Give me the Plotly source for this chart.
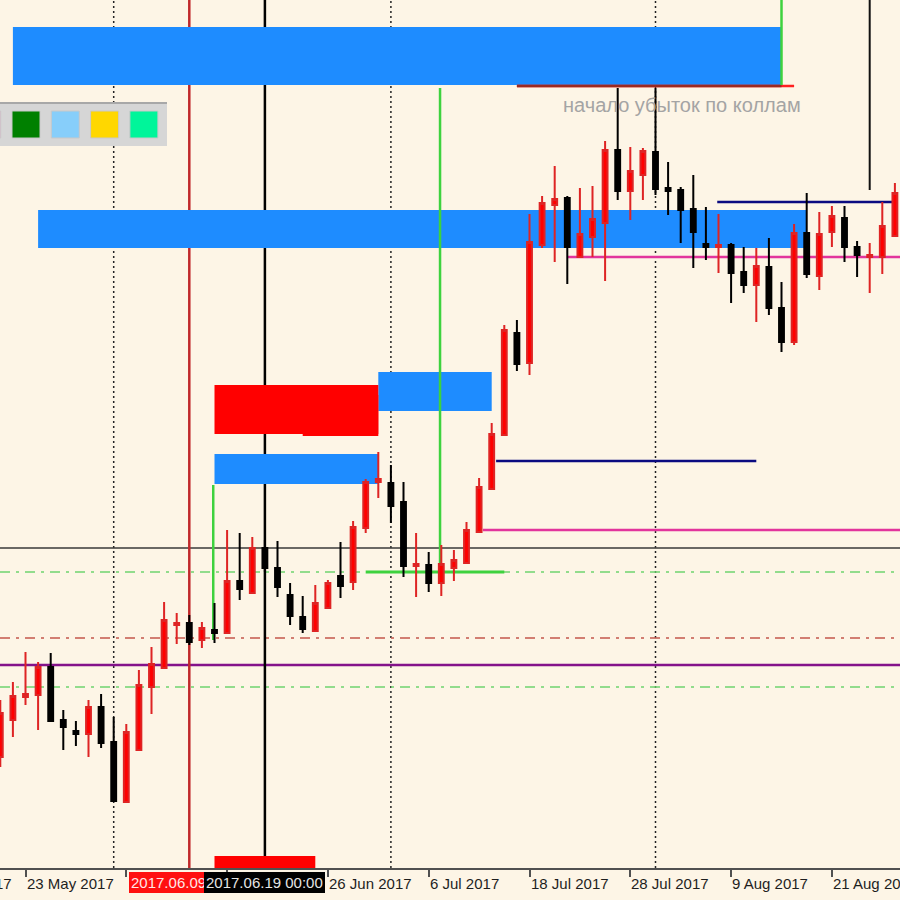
import plotly.graph_objects as go
import pandas as pd

# ---------------- data ----------------
dates = [d.strftime("%Y-%m-%d") for d in pd.bdate_range("2017-05-19", periods=72)]

open_p = [1.1243, 1.1280, 1.1303, 1.1305, 1.1333, 1.1280, 1.1269, 1.1266, 1.1293, 1.1258,
          1.1198, 1.1250, 1.1313, 1.1332, 1.1375, 1.1377, 1.1360, 1.1370, 1.1367, 1.1419,
          1.1407, 1.1452, 1.1432, 1.1405, 1.1383, 1.1369, 1.1392, 1.1424, 1.1418, 1.1472,
          1.1518, 1.1517, 1.1498, 1.1434, 1.1435, 1.1417, 1.1432, 1.1437, 1.1468, 1.1511,
          1.1565, 1.1667, 1.1637, 1.1755, 1.1795, 1.1802, 1.1743, 1.1763, 1.1777, 1.1850,
          1.1809, 1.1825, 1.1848, 1.1812, 1.1810, 1.1791, 1.1756, 1.1753, 1.1755, 1.1728,
          1.1715, 1.1733, 1.1692, 1.1658, 1.1767, 1.1724, 1.1768, 1.1782, 1.1753, 1.1743,
          1.1743, 1.1764]
high_p = [1.1300, 1.1318, 1.1348, 1.1338, 1.1347, 1.1290, 1.1279, 1.1300, 1.1306, 1.1283,
          1.1276, 1.1330, 1.1353, 1.1398, 1.1387, 1.1385, 1.1378, 1.1397, 1.1470, 1.1467,
          1.1463, 1.1460, 1.1459, 1.1417, 1.1404, 1.1415, 1.1420, 1.1458, 1.1479, 1.1521,
          1.1548, 1.1535, 1.1518, 1.1467, 1.1448, 1.1455, 1.1450, 1.1478, 1.1522, 1.1577,
          1.1675, 1.1680, 1.1786, 1.1804, 1.1834, 1.1804, 1.1812, 1.1814, 1.1859, 1.1912,
          1.1853, 1.1852, 1.1912, 1.1838, 1.1813, 1.1825, 1.1793, 1.1786, 1.1757, 1.1753,
          1.1752, 1.1762, 1.1718, 1.1776, 1.1807, 1.1788, 1.1794, 1.1794, 1.1759, 1.1757,
          1.1798, 1.1817]
low_p = [1.1233, 1.1263, 1.1295, 1.1270, 1.1278, 1.1250, 1.1254, 1.1243, 1.1252, 1.1198,
         1.1197, 1.1249, 1.1286, 1.1331, 1.1356, 1.1355, 1.1352, 1.1357, 1.1366, 1.1400,
         1.1406, 1.1428, 1.1403, 1.1375, 1.1367, 1.1368, 1.1391, 1.1402, 1.1410, 1.1467,
         1.1502, 1.1477, 1.1423, 1.1403, 1.1408, 1.1404, 1.1419, 1.1436, 1.1467, 1.1510,
         1.1564, 1.1629, 1.1625, 1.1752, 1.1738, 1.1716, 1.1742, 1.1743, 1.1719, 1.1800,
         1.1780, 1.1800, 1.1805, 1.1785, 1.1757, 1.1732, 1.1740, 1.1727, 1.1697, 1.1707,
         1.1678, 1.1685, 1.1648, 1.1655, 1.1722, 1.1710, 1.1753, 1.1738, 1.1723, 1.1707,
         1.1726, 1.1763]
close_p = [1.1287, 1.1304, 1.1306, 1.1333, 1.1279, 1.1273, 1.1266, 1.1293, 1.1257, 1.1199,
           1.1268, 1.1315, 1.1336, 1.1380, 1.1377, 1.1358, 1.1372, 1.1367, 1.1419, 1.1411,
           1.1452, 1.1432, 1.1413, 1.1384, 1.1371, 1.1397, 1.1417, 1.1414, 1.1473, 1.1518,
           1.1521, 1.1494, 1.1434, 1.1436, 1.1417, 1.1436, 1.1440, 1.1470, 1.1513, 1.1566,
           1.1670, 1.1636, 1.1758, 1.1797, 1.1801, 1.1753, 1.1766, 1.1781, 1.1850, 1.1809,
           1.1829, 1.1849, 1.1811, 1.1809, 1.1790, 1.1768, 1.1753, 1.1755, 1.1727, 1.1715,
           1.1734, 1.1692, 1.1658, 1.1767, 1.1726, 1.1766, 1.1784, 1.1753, 1.1745, 1.1745,
           1.1774, 1.1807]

# axis ticks (every 8 bars); labels that sit under the line-labels are not shown
tick_labels = ["11 May 2017", "23 May 2017", "", "", "26 Jun 2017", "6 Jul 2017",
               "18 Jul 2017", "28 Jul 2017", "9 Aug 2017", "21 Aug 2017"]
tick_offsets = [-8, 0, 8, 16, 24, 32, 40, 48, 56, 64]   # bars after 23 May

separator_dates = ["2017-06-01", "2017-07-03", "2017-08-01"]

# full-width horizontal levels: (price, color, width, dash)
h_levels = [
    (1.1452, "#383838", 1.5, "solid"),
    (1.1428, "#6fd46f", 1.5, "10px,6px,3px,6px"),
    (1.1362, "#c4574c", 1.5, "10px,6px,3px,6px"),
    (1.1335, "#84128a", 2.5, "solid"),
    (1.1313, "#6fd46f", 1.5, "10px,6px,3px,6px"),
]

# rectangles: (date1, date2, price_low, price_high, color)
rects = [
    ("2017-05-22", "2017-08-15", 1.1915, 1.1973, "#1e8cff"),
    ("2017-05-24", "2017-08-17", 1.1752, 1.1790, "#1e8cff"),
    ("2017-06-30", "2017-07-13", 1.1589, 1.1628, "#1e8cff"),
    ("2017-06-13", "2017-06-30", 1.1516, 1.1546, "#1e8cff"),
    ("2017-06-13", "2017-06-30", 1.1566, 1.1615, "#ff0000"),
    ("2017-06-22", "2017-06-30", 1.1564, 1.1605, "#ff0000"),
    ("2017-06-13", "2017-06-23", 1.1120, 1.1144, "#ff0000"),
]

# segments: (date1, offset1, price1, date2, offset2, price2, color, width)  date2=None -> ray to right edge
segments = [
    ("2017-07-13", 0.35, 1.1539, "2017-08-11", 0.0, 1.1539, "#0a0a80", 2.5),
    ("2017-07-12", 0.3, 1.1470, None, 0.0, 1.1470, "#e2349c", 2.5),
    ("2017-07-21", 0.0, 1.1743, None, 0.0, 1.1743, "#e2349c", 2.5),
    ("2017-08-08", -0.1, 1.1798, "2017-08-28", 0.0, 1.1798, "#0a0a80", 2.5),
    ("2017-07-17", 0.0, 1.1914, "2017-08-16", 0.0, 1.1914, "#ff2020", 2.5),
    ("2017-07-17", 0.0, 1.1914, "2017-08-15", 0.0, 1.1914, "#9a2a22", 2.5),
    ("2017-06-29", 0.0, 1.1428, "2017-07-14", 0.0, 1.1428, "#3ed23e", 3),
    ("2017-07-07", -0.1, 1.1428, "2017-07-07", -0.1, 1.1912, "#3ed23e", 2.5),
    ("2017-06-13", -0.1, 1.1360, "2017-06-13", -0.1, 1.1515, "#3ed23e", 2.5),
    ("2017-08-15", 0.0, 1.1915, "2017-08-15", 0.0, 1.2100, "#3ed23e", 2.5),
    ("2017-08-24", 0.0, 1.1810, "2017-08-24", 0.0, 1.2100, "#111111", 2),
]

vlines = [("2017-06-09", "#c0282a", "2017.06.09 00:00", "#ff1010", "#ffe6e6"),
          ("2017-06-19", "#000000", "2017.06.19 00:00", "#000000", "#e4e4e4")]

note_text = "начало убыток по коллам"
note_date, note_price = "2017-07-20", 1.1895

swatch_colors = ["#ff9ecf", "#008000", "#87cefa", "#ffd700", "#00f59a"]

BG = "#fdf5e6"
FONT = "Liberation Sans"

# ---------------- figure ----------------
P = {d: i for i, d in enumerate(dates)}
xs = list(range(len(dates)))
base = P["2017-05-23"]
BAR_PX = 12.6
x0 = base - 25.5 / BAR_PX
x1 = x0 + 900 / BAR_PX

fig = go.Figure()
fig.add_trace(go.Candlestick(
    x=xs, open=open_p, high=high_p, low=low_p, close=close_p,
    increasing=dict(line=dict(color="#de2424", width=2), fillcolor="#ff0000"),
    decreasing=dict(line=dict(color="#000000", width=2), fillcolor="#000000"),
    whiskerwidth=0, hoverinfo="skip", showlegend=False,
))

shapes = []
for d1, d2, p0, p1, col in rects:
    shapes.append(dict(type="rect", xref="x", yref="y", x0=P[d1], x1=P[d2], y0=p0, y1=p1,
                       fillcolor=col, line=dict(width=0), layer="below"))
for d in separator_dates:
    shapes.append(dict(type="line", xref="x", yref="paper", x0=P[d], x1=P[d], y0=0, y1=1,
                       line=dict(color="#222222", width=1.5, dash="2px,3px"), layer="below"))
for p, col, w, dash in h_levels:
    shapes.append(dict(type="line", xref="paper", yref="y", x0=0, x1=1, y0=p, y1=p,
                       line=dict(color=col, width=w, dash=dash), layer="below"))
XMAX = len(dates) + 2
for d1, o1, p1, d2, o2, p2, col, w in segments:
    xe = XMAX if d2 is None else P[d2] + o2
    shapes.append(dict(type="line", xref="x", yref="y", x0=P[d1] + o1, x1=xe, y0=p1, y1=p2,
                       line=dict(color=col, width=w), layer="below"))
for d, col, _, _, _ in vlines:
    shapes.append(dict(type="line", xref="x", yref="paper", x0=P[d], x1=P[d], y0=0, y1=1,
                       line=dict(color=col, width=2.5), layer="below"))

# colour panel (top-left overlay), pixel geometry -> paper
PLOT_H = 868.0
def px(x):
    return x / 900.0
def py(y):
    return (PLOT_H - y) / PLOT_H
def idx_to_paper(v):
    return (v - x0) / (x1 - x0)

shapes.append(dict(type="rect", xref="paper", yref="paper", x0=px(-10), x1=px(167),
                   y0=py(146), y1=py(102), fillcolor="#d6d6d6", line=dict(width=0), layer="above"))
shapes.append(dict(type="line", xref="paper", yref="paper", x0=px(-10), x1=px(167),
                   y0=py(103), y1=py(103), line=dict(color="#a8a8a8", width=2), layer="above"))
for k, col in enumerate(swatch_colors):
    left = -27.3 + 39.3 * k
    shapes.append(dict(type="rect", xref="paper", yref="paper", x0=px(left), x1=px(left + 28),
                       y0=py(138), y1=py(111), fillcolor=col, line=dict(color="#c8c8c8", width=1),
                       layer="above"))

annotations = []
tick_pos = [base + o for o in tick_offsets]
for xv, t in zip(tick_pos, tick_labels):
    if not t:
        continue
    annotations.append(dict(x=idx_to_paper(xv), y=0, xref="paper", yref="paper", text=t,
                            showarrow=False, xanchor="left", yanchor="top", yshift=-5, xshift=-1,
                            font=dict(family=FONT, size=15, color="#1e1e1e")))
for d, _, label, bg, fc in vlines:
    annotations.append(dict(x=P[d], y=0, xref="x", yref="paper", text=label, showarrow=False,
                            xanchor="center", yanchor="top", yshift=-4,
                            bgcolor=bg, bordercolor=bg, borderwidth=1, borderpad=1,
                            font=dict(family=FONT, size=15, color=fc)))
annotations.append(dict(x=P[note_date] + 0.5, y=note_price, xref="x", yref="y", text=note_text,
                        showarrow=False, xanchor="left", yanchor="middle",
                        font=dict(family=FONT, size=20, color="#a4a4a4")))

fig.update_layout(
    width=900, height=900,
    margin=dict(l=0, r=0, t=0, b=32, pad=0, autoexpand=False),
    paper_bgcolor=BG, plot_bgcolor=BG,
    showlegend=False, boxgap=0.45,
    shapes=shapes, annotations=annotations,
    xaxis=dict(range=[x0, x1], showgrid=False, zeroline=False,
               showline=True, linecolor="#505050", linewidth=2,
               ticks="outside", tickvals=tick_pos, ticklen=7, tickwidth=1.5,
               tickcolor="#505050", showticklabels=False,
               rangeslider=dict(visible=False), fixedrange=True, automargin=False),
    yaxis=dict(range=[1.1132, 1.2000], visible=False, showgrid=False, fixedrange=True,
               automargin=False),
)

fig.write_html("out.html", config={"displayModeBar": False},
               post_script="document.body.style.margin='0';document.body.style.background='%s';" % BG)
